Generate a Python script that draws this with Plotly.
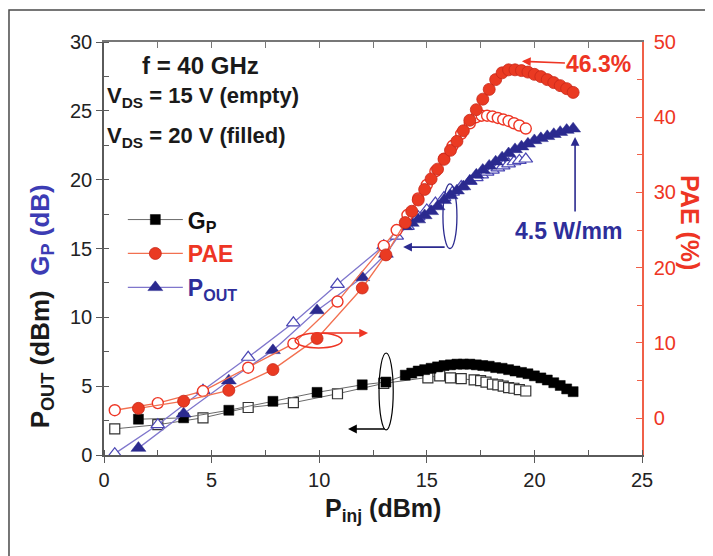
import plotly.graph_objects as go

# ---------------- data ----------------
# V_DS = 20 V (filled symbols)
pinj_20 = [1.6, 3.7, 5.8, 7.85, 9.9, 12.0, 13.1, 14.0, 14.3, 14.6, 14.9, 15.2, 15.5, 15.8,
           16.1, 16.4, 16.7, 17.0, 17.3, 17.6, 17.9, 18.2, 18.5, 18.8, 19.1, 19.4, 19.7,
           20.0, 20.3, 20.6, 20.9, 21.2, 21.5, 21.8]
gp_20 = [2.6, 2.7, 3.25, 3.9, 4.55, 5.1, 5.3, 5.8, 5.95, 6.1, 6.2, 6.3, 6.4, 6.5,
         6.55, 6.6, 6.6, 6.6, 6.55, 6.5, 6.45, 6.35, 6.3, 6.2, 6.1, 6.0, 5.9,
         5.75, 5.6, 5.45, 5.25, 5.05, 4.8, 4.6]
pout_20 = [0.5, 3.0, 5.4, 7.6, 10.5, 12.9, 14.6, 16.6, 16.85, 17.1, 17.4, 17.7, 18.05, 18.5,
           18.85, 19.2, 19.5, 19.9, 20.35, 20.7, 21.0, 21.3, 21.6, 21.9, 22.2, 22.4, 22.6,
           22.85, 23.0, 23.15, 23.3, 23.45, 23.6, 23.7]
pae_20 = [1.3, 2.25, 3.7, 6.45, 10.6, 17.3, 21.7, 26.0, 27.5, 29.0, 30.4, 31.8, 33.1, 34.4,
          35.6, 36.8, 38.2, 39.6, 41.0, 42.4, 43.7, 45.0, 45.9, 46.3, 46.3, 46.2, 46.0,
          45.7, 45.4, 45.0, 44.6, 44.2, 43.8, 43.3]

# V_DS = 15 V (empty symbols)
pinj_15_gp = [0.5, 2.5, 4.6, 6.7, 8.8, 10.85, 13.0, 15.05, 15.6, 16.1, 16.6, 17.2, 17.5,
              17.75, 18.05, 18.3, 18.55, 18.8, 19.05, 19.3, 19.6]
gp_15 = [1.9, 2.2, 2.7, 3.45, 3.8, 4.45, 5.2, 5.6, 5.75, 5.6, 5.55, 5.45, 5.4,
         5.3, 5.15, 5.1, 5.0, 4.9, 4.85, 4.75, 4.65]
pinj_15 = [0.5, 2.5, 4.6, 6.7, 8.8, 10.85, 13.0, 13.6, 14.1, 14.6, 15.0, 15.4, 15.8, 16.2,
           16.6, 17.0, 17.3, 17.55, 17.8, 18.05, 18.3, 18.55, 18.8, 19.05, 19.3, 19.6]
pout_15 = [0.1, 2.2, 4.7, 7.1, 9.6, 12.4, 15.2, 15.9, 16.6, 17.3, 17.8, 18.3, 18.7, 19.1,
           19.5, 19.9, 20.15, 20.35, 20.55, 20.7, 20.85, 21.0, 21.15, 21.3, 21.4, 21.5]
pae_15 = [1.05, 2.0, 3.6, 6.7, 9.9, 15.5, 22.9, 25.0, 27.0, 29.2, 31.0, 32.8, 34.5, 36.2,
          37.8, 39.2, 40.0, 40.2, 40.2, 40.1, 39.9, 39.7, 39.5, 39.2, 38.9, 38.5]

x_ticks = [0, 5, 10, 15, 20, 25]
y_ticks = [0, 5, 10, 15, 20, 25, 30]
pae_ticks = [0, 10, 20, 30, 40, 50]

# ---------------- styles ----------------
FONT = "Liberation Sans, Arial, sans-serif"
RED = "#ee3524"
RED_LINE = "#f27050"
NAVY = "#2b2a8f"
PURPLE_LINE = "#7f76cc"
BLUE_TEXT = "#2e2e9a"
GP_BLUE = "#3c3cb4"
GRAY_LINE = "#6a6a6a"
AXIS_GRAY = "#5a5a5a"

fig = go.Figure()

# G_P
fig.add_trace(go.Scatter(x=pinj_15_gp, y=gp_15, mode="lines+markers", showlegend=False,
                         line=dict(color=GRAY_LINE, width=1),
                         marker=dict(symbol="square", size=10, color="white",
                                     line=dict(color="#333333", width=1.2))))
fig.add_trace(go.Scatter(x=pinj_20, y=gp_20, mode="lines+markers",
                         name="<b>G<sub>P</sub></b>", legendgroup="g", legendrank=1,
                         line=dict(color=GRAY_LINE, width=1),
                         marker=dict(symbol="square", size=10, color="black",
                                     line=dict(color="black", width=0.5))))
# P_OUT
fig.add_trace(go.Scatter(x=pinj_15, y=pout_15, mode="lines+markers", showlegend=False,
                         line=dict(color=PURPLE_LINE, width=1.3),
                         marker=dict(symbol="triangle-up", size=12, color="white",
                                     line=dict(color="#4a46b4", width=1.2))))
fig.add_trace(go.Scatter(x=pinj_20, y=pout_20, mode="lines+markers",
                         name="<b><span style='color:%s'>P<sub>OUT</sub></span></b>" % BLUE_TEXT,
                         legendgroup="p", legendrank=3,
                         line=dict(color=PURPLE_LINE, width=1.3),
                         marker=dict(symbol="triangle-up", size=13, color=NAVY,
                                     line=dict(color=NAVY, width=0.5))))
# PAE (right axis)
fig.add_trace(go.Scatter(x=pinj_15, y=pae_15, mode="lines+markers", showlegend=False,
                         yaxis="y2", line=dict(color=RED_LINE, width=1.3),
                         marker=dict(symbol="circle", size=11, color="white",
                                     line=dict(color=RED, width=1.4))))
fig.add_trace(go.Scatter(x=pinj_20, y=pae_20, mode="lines+markers",
                         name="<b><span style='color:%s'>PAE</span></b>" % RED,
                         legendgroup="e", legendrank=2, yaxis="y2",
                         line=dict(color=RED_LINE, width=1.3),
                         marker=dict(symbol="circle", size=12, color="#ea3a22",
                                     line=dict(color="#c8281a", width=0.8))))
# dummy trace so the top axis is drawn
fig.add_trace(go.Scatter(x=[None], y=[None], xaxis="x2", showlegend=False, hoverinfo="skip"))

# ---------------- shapes ----------------
shapes = [
    # outer frame (only top/left visible)
    dict(type="rect", xref="paper", yref="paper", x0=-0.1766, x1=1.2, y0=-0.3, y1=1.0775,
         line=dict(color="#4a4a4a", width=1.5), layer="below"),
    # ellipse around PAE
    dict(type="circle", xref="x", yref="y", x0=8.88, x1=11.06, y0=7.77, y1=8.86,
         line=dict(color=RED, width=1.5)),
    # ellipse around G_P
    dict(type="circle", xref="x", yref="y", x0=12.78, x1=13.44, y0=1.82, y1=7.41,
         line=dict(color="black", width=1.2)),
    # ellipse around P_OUT
    dict(type="circle", xref="x", yref="y", x0=15.75, x1=16.4, y0=15.0, y1=19.7,
         line=dict(color=NAVY, width=1.3)),
]

ann = []
def text(x, y, s, size, color="#1a1a1a", xanchor="center", angle=0):
    ann.append(dict(xref="paper", yref="paper", x=x, y=y, text=s, showarrow=False,
                    xanchor=xanchor, yanchor="middle", textangle=angle,
                    font=dict(family=FONT, size=size, color=color)))

def arrow(x, y, ax, ay, color, yref="y"):
    ann.append(dict(xref="x", yref=yref, x=x, y=y, ax=ax, ay=ay, axref="pixel", ayref="pixel",
                    text="", showarrow=True, arrowhead=2, arrowsize=1.1, arrowwidth=1.6,
                    arrowcolor=color, standoff=0, startstandoff=0))

text(0.180, 0.942, "<b>f = 40 GHz</b>", 24)
text(0.002, 0.867, "<b>V<sub>DS</sub> = 15 V (empty)</b>", 22, xanchor="left")
text(0.002, 0.770, "<b>V<sub>DS</sub> = 20 V (filled)</b>", 22, xanchor="left")
# 46.3 % label with its arrow
ann.append(dict(xref="x", yref="y", x=19.42, y=28.6, ax=77, ay=3, axref="pixel", ayref="pixel",
                text="<b>46.3%</b>", showarrow=True, arrowhead=2, arrowsize=1.1, arrowwidth=1.6,
                arrowcolor=RED, standoff=0, font=dict(family=FONT, size=23, color=RED)))
text(0.864, 0.543, "<b>4.5 W/mm</b>", 23, color=BLUE_TEXT)
text(-0.117, 0.36, "<b>P<sub>OUT</sub> (dBm)  <span style='color:%s'>G<sub>P</sub> (dB)</span></b>" % GP_BLUE,
     26, angle=-90)
text(1.089, 0.562, "<b>PAE (%)</b>", 25, color=RED, angle=90)
text(0.519, -0.133, "<b>P<sub>inj</sub> (dBm)</b>", 25)

arrow(21.89, 23.1, 0, 76, NAVY)        # 4.5 W/mm arrow
arrow(12.27, 8.86, -47, 0, RED)        # PAE ellipse -> right axis
arrow(11.34, 1.89, 38, 0, "black")     # G_P ellipse -> left axis
arrow(13.9, 15.1, 43, 0, NAVY)         # P_OUT ellipse -> left axis

# the page body adds an 8 px offset, so the figure is 8 px smaller
fig.update_layout(
    width=705, height=548,
    margin=dict(l=96, r=71, t=34, b=101),
    paper_bgcolor="white", plot_bgcolor="white",
    font=dict(family=FONT, color="#1a1a1a"),
    showlegend=True,
    legend=dict(x=0.035, y=0.622, xanchor="left", yanchor="top",
                bgcolor="rgba(0,0,0,0)", font=dict(family=FONT, size=23, color="#111111"),
                traceorder="grouped", tracegroupgap=1, itemwidth=55),
    shapes=shapes, annotations=ann,
    xaxis=dict(range=[0, 25], tickvals=x_ticks, ticks="outside", ticklen=6, tickwidth=1.2,
               tickcolor=AXIS_GRAY, showline=True, linecolor=AXIS_GRAY, linewidth=1.5,
               showgrid=False, zeroline=False,
               minor=dict(dtick=2.5, tick0=0, ticks="inside", ticklen=5, tickcolor=AXIS_GRAY, showgrid=False),
               tickfont=dict(family=FONT, size=20, color="#222222")),
    xaxis2=dict(range=[0, 25], overlaying="x", side="top", dtick=2.5, tick0=0,
                ticks="inside", ticklen=6, tickcolor="#777777", showline=True,
                linecolor="#777777", linewidth=1.5, showticklabels=False,
                showgrid=False, zeroline=False),
    yaxis=dict(range=[0, 30], tickvals=y_ticks, ticks="outside", ticklen=6, tickwidth=1.2,
               tickcolor=AXIS_GRAY, showline=True, linecolor=AXIS_GRAY, linewidth=1.5,
               showgrid=False, zeroline=False,
               minor=dict(dtick=2.5, tick0=0, ticks="inside", ticklen=5, tickcolor=AXIS_GRAY, showgrid=False),
               tickfont=dict(family=FONT, size=20, color="#222222")),
    yaxis2=dict(range=[-4.9, 50], overlaying="y", side="right", tickvals=pae_ticks,
                ticks="inside", ticklen=6, tickwidth=1.2, tickcolor="#f06048",
                showline=True, linecolor="#f06048", linewidth=1.5,
                showgrid=False, zeroline=False, ticklabelstandoff=6,
                minor=dict(tickvals=[5, 15, 25, 35, 45], ticks="inside", ticklen=5,
                           tickcolor="#f06048", showgrid=False),
                tickfont=dict(family=FONT, size=20, color=RED)),
)

fig.write_html("out.html")
